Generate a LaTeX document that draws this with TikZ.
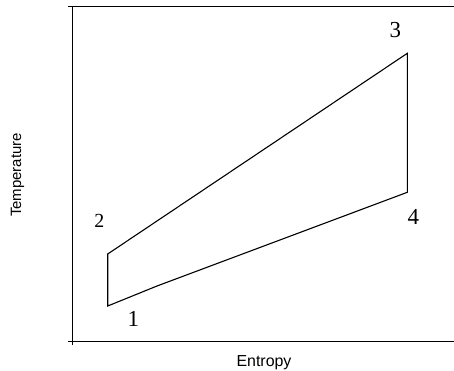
\documentclass[tikz,border=0pt]{standalone}
\usepackage{fontspec}
\setmainfont{Liberation Serif}
\setsansfont{Liberation Sans}
\begin{document}
\begin{tikzpicture}[x=1bp,y=-1bp,
  axisline/.style={line width=1.3bp, draw=black},
  cycleline/.style={line width=1.1bp, draw=black, line join=miter},
  statelbl/.style={font=\fontsize{23}{26}\selectfont, inner sep=0pt},
  axislbl/.style={font=\sffamily\fontsize{16}{18}\selectfont, inner sep=0pt}]
\useasboundingbox (0,0) rectangle (454,370);
% axes
\coordinate (ytop) at (72.5,6.8);
\coordinate (ybot) at (72.5,345);
\coordinate (tl) at (68.3,6.8);
\coordinate (tr) at (454,6.8);
\coordinate (bl) at (68.3,341.3);
\coordinate (br) at (454,341.3);
\draw[axisline] (ytop) -- (ybot);
\draw[axisline] (tl) -- (tr);
\draw[axisline] (bl) -- (br);
% cycle
\coordinate (p1) at (107.7,306);
\coordinate (p2) at (107.7,254);
\coordinate (p3) at (407.3,53.3);
\coordinate (p4) at (407.3,192.3);
\coordinate (pb) at (157,286);
\draw[cycleline] (p1) -- (p2) -- (p3) -- (p4) -- (pb) -- cycle;
% labels
\node[statelbl] (l1) at (133.3,319) {1};
\node[statelbl, font=\fontsize{20}{23}\selectfont] (l2) at (99.3,221) {2};
\node[statelbl] (l3) at (395.3,30.3) {3};
\node[statelbl] (l4) at (413.3,216.7) {4};
\node[axislbl, anchor=base] (xl) at (264,366) {Entropy};
\node[axislbl, rotate=90, font=\sffamily\fontsize{15}{17}\selectfont] (yl) at (17.5,175) {Temperature};
\end{tikzpicture}
\end{document}
